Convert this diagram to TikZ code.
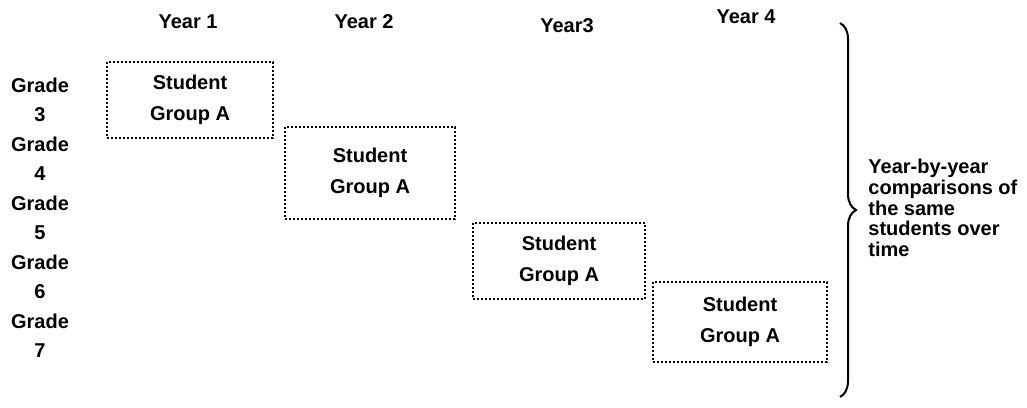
\documentclass[tikz,border=0pt]{standalone}
\usepackage{fontspec}
\setmainfont{Liberation Sans}
\usetikzlibrary{positioning, decorations.pathreplacing}

\begin{document}
\begin{tikzpicture}[x=0.5pt, y=-0.5pt, font=\bfseries\fontsize{10}{15.5}\selectfont]
        \tikzset{
            yearlbl/.style={inner sep=0pt},
            gradelbl/.style={align=center, inner sep=0pt, font=\bfseries\fontsize{10}{14.5}\selectfont},
            grp/.style={draw, densely dotted, line width=1pt, align=center, inner sep=0pt,
                minimum width=83pt, minimum height=38pt},
            note/.style={align=left, inner sep=0pt, font=\bfseries\fontsize{10}{10.3}\selectfont}
        }
        \useasboundingbox (0,0) rectangle (1027,407);

        % Years
        \node[yearlbl] (y1) at (188,22) {Year 1};
        \node[yearlbl] (y2) at (364,22) {Year 2};
        \node[yearlbl] (y3) at (567,26) {Year3};
        \node[yearlbl] (y4) at (746,17) {Year 4};

        % Grades
        \foreach \g [count=\i from 0] in {3,...,7}
            \node[gradelbl] (g\g) at (40,100+59*\i) {Grade\\\g};

        % Student groups
        \node[grp] (ga1) at (190,100) {Student\\Group A};
        \node[grp, minimum width=85pt, minimum height=46pt] (ga2) at (370,173) {Student\\Group A};
        \node[grp, minimum width=86pt] (ga3) at (559,261) {Student\\Group A};
        \node[grp, minimum width=87pt, minimum height=40pt] (ga4) at (740,322) {Student\\Group A};

        % Brace
        \coordinate (btop) at (840,23);
        \coordinate (bbot) at (840,397);
        \draw[decorate, decoration={brace, amplitude=8pt}, line width=1pt] (btop) -- (bbot);
        \node[note, anchor=west] (cmp) at (868,208)
            {Year-by-year\\comparisons of\\the same\\students over\\time};
\end{tikzpicture}
\end{document}
